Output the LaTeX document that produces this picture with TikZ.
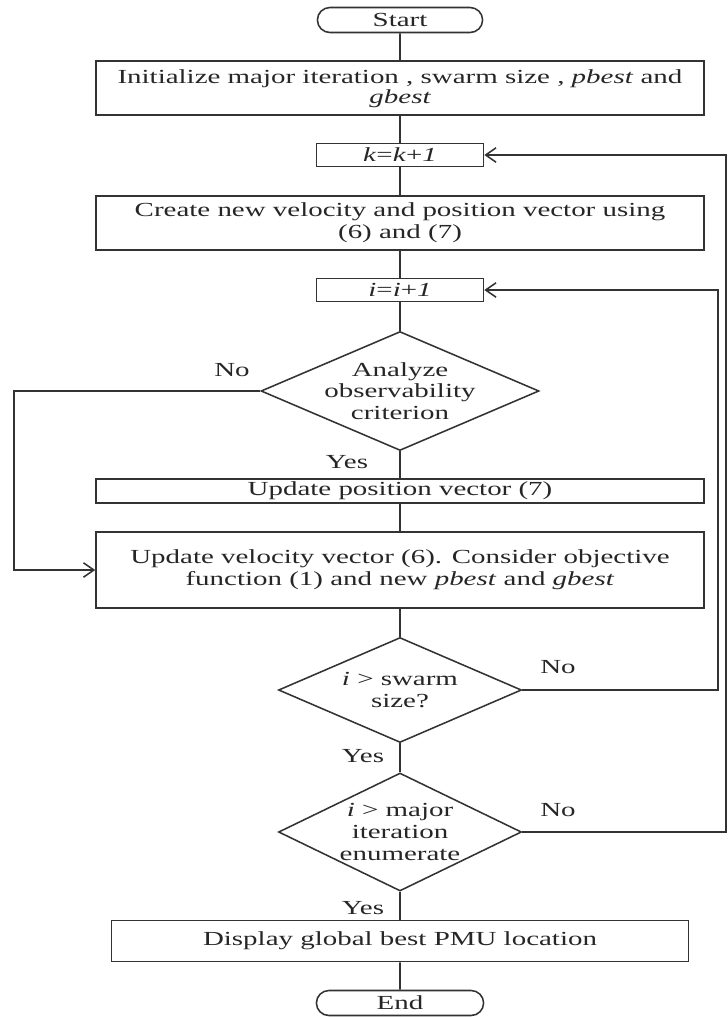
\documentclass[tikz,border=0pt]{standalone}
\usepackage{fontspec}
\usepackage{graphicx}
\setmainfont{Liberation Serif}[FakeStretch=1.45]
\newfontfamily\plainserif{Liberation Serif}
\newcommand{\wideit}[1]{\scalebox{1.45}[1]{\plainserif\itshape #1}}
\usepackage{tikz}
\usetikzlibrary{shapes.geometric, shapes.misc, arrows.meta}

\begin{document}
\begin{tikzpicture}[>={Straight Barb[length=2.6mm,width=3.6mm]}, line width=1.1pt, draw=black!80, text=black!85,
    font=\fontsize{14.2}{15.4}\selectfont]
        % Define the styles for the flowchart blocks
        \tikzstyle{term}=[rounded rectangle, draw, minimum width=4.2cm, minimum height=0.625cm, inner sep=1pt]
        \tikzstyle{proc}=[rectangle, draw, minimum width=15.2cm, inner sep=2pt, align=center]
        \tikzstyle{counter}=[rectangle, draw, minimum width=4.175cm, minimum height=0.575cm, inner sep=1pt]
        \tikzstyle{decision}=[diamond, draw, inner sep=0pt]

        \useasboundingbox (0,0) rectangle (18.175,-25.425);

        % Define the nodes
        \node[term] (start) at (10,-0.5) {Start};
        \node[proc, minimum height=1.35cm] (init) at (10,-2.2) {};
        \node (initline) at (10,-1.96) {Initialize major iteration , swarm size , \textit{pbest} and};
        \node (initgbest) at (10,-2.47) {\wideit{gbest}};
        \node[counter] (inck) at (10,-3.875) {\textit{k}=\textit{k}+\textit{1}};
        \node[proc, minimum height=1.35cm] (create) at (10,-5.575)
            {Create new velocity and position vector using\\ (6) and (7)};
        \node[counter] (inci) at (10,-7.25) {\textit{i}=\textit{i}+\textit{1}};
        \node[decision, minimum width=6.95cm, minimum height=2.975cm] (obs) at (10,-9.775) {};
        \node[align=center] (obstext) at (obs) {Analyze\\observability\\criterion};
        \node[proc, minimum height=0.6cm] (pos) at (10,-12.275) {Update position vector (7)};
        \node[proc, minimum height=1.9cm] (vel) at (10,-14.25)
            {Update velocity vector (6). Consider objective\\ function (1) and new \textit{pbest} and \textit{gbest}};
        \node[decision, minimum width=6.075cm, minimum height=2.625cm] (swarm) at (10,-17.25) {};
        \node[align=center] (swarmtext) at (swarm) {\textit{i} > swarm\\size?};
        \node[decision, minimum width=6.075cm, minimum height=2.95cm] (major) at (10,-20.8) {};
        \node[align=center] (majortext) at (major) {\textit{i} > major\\iteration\\enumerate};
        \node[proc, minimum width=14.425cm, minimum height=1.025cm] (show) at (10,-23.525)
            {Display global best PMU location};
        \node[term, minimum width=4.25cm] (end) at (10,-25.075) {End};

        % Define the branch labels
        \node (no1) at (5.8,-9.25) {No};
        \node (yes1) at (8.675,-11.55) {Yes};
        \node (no2) at (13.95,-16.675) {No};
        \node (yes2) at (9.075,-18.9) {Yes};
        \node (no3) at (13.95,-20.25) {No};
        \node (yes3) at (9.075,-22.7) {Yes};

        % Define the columns of the loop lines
        \coordinate (lx) at (0.35,0);
        \coordinate (rx) at (17.95,0);
        \coordinate (ox) at (18.15,0);

        % Define the main flow
        \foreach \a/\b in {start/init, init/inck, inck/create, create/inci, inci/obs,
                obs/pos, pos/vel, vel/swarm, swarm/major, major/show, show/end}
            \draw (\a) -- (\b);

        % Define the loops back
        \draw[->] (obs.west) -- (obs.west -| lx) |- (vel.west);
        \draw[->] (swarm.east) -- (swarm.east -| rx) |- (inci.east);
        \draw[->] (major.east) -- (major.east -| ox) |- (inck.east);
    \end{tikzpicture}
\end{document}
